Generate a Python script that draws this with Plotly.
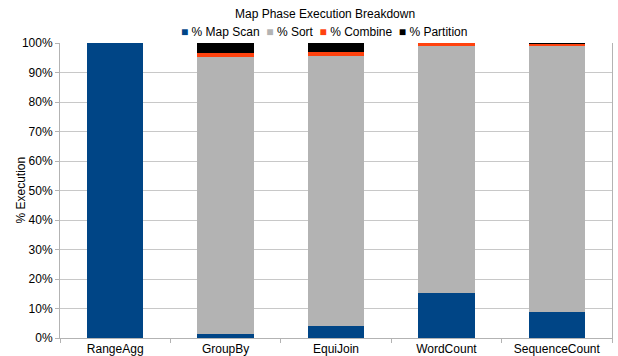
import plotly.graph_objects as go

categories = ["RangeAgg", "GroupBy", "EquiJoin", "WordCount", "SequenceCount"]
map_scan = [100.0, 1.4, 4.2, 15.3, 8.8]
sort = [0.0, 93.8, 91.4, 83.8, 90.3]
combine = [0.0, 1.4, 1.4, 0.9, 0.6]
partition = [0.0, 3.4, 3.0, 0.0, 0.3]

series = [
    ("% Map Scan", map_scan, "#004586"),
    ("% Sort", sort, "#b3b3b3"),
    ("% Combine", combine, "#ff420e"),
    ("% Partition", partition, "#000000"),
]

fig = go.Figure()
for name, vals, color in series:
    fig.add_trace(go.Bar(x=categories, y=vals, name=name, marker_color=color,
                         marker_line_width=0, showlegend=False))

# compact legend like the original, built from the series list
legend_text = "  ".join(
    f"<span style='color:{color}'>■</span> {name}" for name, _, color in series
)

font = "Liberation Sans, Arial, sans-serif"
fig.update_layout(
    barmode="stack",
    bargap=0.49,
    width=618, height=356,
    margin=dict(l=60, r=6, t=43, b=18, autoexpand=False),
    paper_bgcolor="white", plot_bgcolor="white",
    font=dict(family=font, size=12, color="#000000"),
    title=dict(text="Map Phase Execution Breakdown", x=0.526, xanchor="center",
               xref="container", y=1 - 14 / 356, yref="container",
               yanchor="middle", font=dict(size=12)),
    showlegend=False,
    annotations=[
        dict(text=legend_text, xref="paper", yref="paper",
             x=0.478, y=(338 - 32) / 295, xanchor="center", yanchor="middle",
             showarrow=False, font=dict(size=12)),
        dict(text="% Execution", xref="paper", yref="paper",
             x=(20 - 60) / 552, y=0.5, xanchor="center", yanchor="middle",
             textangle=-90, showarrow=False, font=dict(size=12)),
    ],
)
fig.update_yaxes(range=[0, 100], tickvals=list(range(0, 101, 10)),
                 ticktext=[f"{v}%" for v in range(0, 101, 10)],
                 showgrid=True, gridcolor="#c8c8c8", gridwidth=1,
                 showline=True, linecolor="#b3b3b3", linewidth=1, mirror=True,
                 ticks="outside", ticklen=4, tickcolor="#b3b3b3",
                 zeroline=False)
fig.update_xaxes(showline=True, linecolor="#b3b3b3", linewidth=1,
                 ticks="outside", ticklen=4, tickcolor="#b3b3b3",
                 tickson="boundaries", showgrid=False)

fig.write_html("out.html")
